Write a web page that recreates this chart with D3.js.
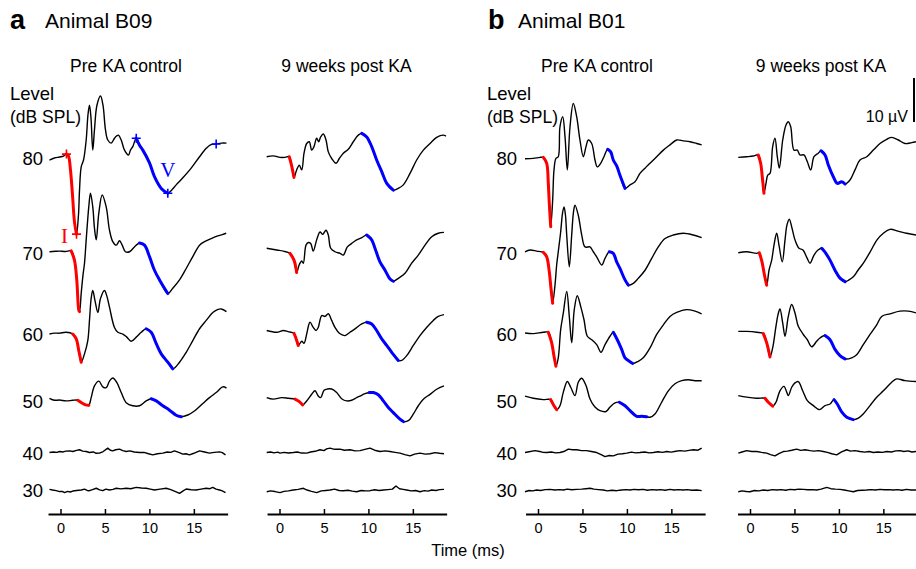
<!DOCTYPE html>
<html><head><meta charset="utf-8">
<script src="https://cdn.jsdelivr.net/npm/d3@7"></script>
<style>
body{margin:0;background:#fff}
svg{display:block}
text{font-family:"Liberation Sans",Arial,Helvetica,sans-serif;fill:#000}
</style>
</head><body>
<svg id="chart" width="916" height="569"></svg>
<script>
// ---------- DATA (time in ms, amplitude in µV relative to each trace's baseline) ----------
const levels = [80, 70, 60, 50, 40, 30];
const levelOffsets = [80.9, 59.3, 41.0, 25.7, 13.9, 5.45]; // µV stacking offsets
const xTicks = [0, 5, 10, 15];
const panelTitles = ["Pre KA control", "9 weeks post KA", "Pre KA control", "9 weeks post KA"];
const animalLabels = ["Animal B09", "Animal B01"];
const scaleBarValue = 10; // µV

// Animal B09, pre KA
const pre_B09_80 = [[-1.24,-0.45],[-0.67,0],[-0.11,0.23],[0.34,0.45],[0.67,0.9],[0.9,0.45],[1.12,-2.7],[1.35,-8.4],[1.57,-14.5],[1.8,-17.3],[2.02,-13],[2.14,-7.3],[2.33,-2],[2.59,-0.45],[2.89,4.1],[3.09,9.8],[3.26,12],[3.43,9.1],[3.63,1.8],[3.82,6.4],[4.1,12],[4.5,14.1],[4.78,12],[5.06,6.4],[5.32,4.1],[5.7,3.4],[6.07,4.5],[6.3,5],[6.52,5.2],[6.83,4.1],[7.2,1.8],[7.65,0.7],[7.87,1.8],[8.13,2.6],[8.52,4.5],[8.89,2.9],[9.26,1.8],[10.01,-1.1],[10.57,-4.25],[11.33,-6.9],[12.07,-8],[12.49,-7.3],[13.01,-6.1],[13.76,-4.5],[14.7,-2.3],[15.64,0.3],[16.39,2.2],[16.87,3],[17.51,3.2],[18.1,3.4],[18.67,3.4]];
const pre_B09_70 = [[-1.24,0.3],[-0.6,0.4],[-0.11,0.45],[0.56,0.35],[1.2,0.5],[1.57,-1.6],[1.83,-6.1],[2.06,-13],[2.14,-13.3],[2.33,-9.1],[2.53,-5],[2.7,-2.3],[2.89,3],[3.18,10.5],[3.37,13.6],[3.63,10.5],[3.82,5.7],[4.02,3],[4.31,9.1],[4.69,13.2],[5.14,10.5],[5.51,5.2],[5.88,2.6],[6.27,1.8],[6.64,2.8],[6.94,1.8],[7.31,0.3],[7.76,0.3],[8.32,1.4],[8.89,2.3],[9.45,1.8],[10.01,-0.8],[10.57,-3.9],[11.14,-6.1],[12.07,-9.2],[12.63,-8],[13.39,-6.1],[14.14,-3.5],[14.88,-0.8],[15.64,1.8],[16.2,2.6],[16.95,3.3],[17.69,3.9],[18.2,4.2],[18.64,4.5]];
const pre_B09_60 = [[-1.24,-0.1],[-0.67,0.1],[-0.11,0.1],[0.64,0.3],[1.38,-0.1],[1.77,-1.2],[2.06,-3.9],[2.33,-6.5],[2.7,-4.6],[3.07,-1.6],[3.26,3],[3.45,8],[3.63,9.8],[3.88,7.5],[4.2,4.8],[4.5,8],[4.95,9.8],[5.23,8.4],[5.51,6],[6.07,1.4],[6.45,0.3],[7.01,-0.1],[7.46,-0.8],[7.95,-1.75],[8.52,-0.8],[9.08,0.3],[9.64,1.1],[10.2,0.3],[10.77,-2.3],[11.33,-4.6],[12.07,-6.5],[12.63,-8],[13.39,-6.5],[14.14,-4.25],[14.88,-1.6],[15.64,1.1],[16.39,3],[17.13,4.8],[17.66,5.45],[18.08,5.6],[18.67,5]];
const pre_B09_50 = [[-1.24,0.6],[-0.67,0.15],[-0.11,0.2],[0.64,0],[1.38,0.15],[1.95,0.15],[2.51,-0.6],[2.81,-0.9],[3.18,-1],[3.45,0.75],[3.82,3.4],[4.31,4.5],[4.76,3.2],[5.14,3],[5.51,4.5],[5.88,5.2],[6.33,4.2],[6.83,1.9],[7.39,-0.4],[8.13,-1.1],[8.89,-1.1],[9.64,0],[10.2,0.5],[10.77,0],[11.51,-1.1],[12.26,-2.1],[13.01,-3.25],[13.58,-3.6],[14.32,-3.2],[15.07,-2.3],[16.01,-0.6],[16.76,0.75],[17.51,1.9],[18.26,3.2],[18.67,2.9]];
const pre_B09_40 = [[-1.24,0.07],[-0.8,0.2],[-0.4,0.1],[-0.11,0.3],[0.3,0.2],[0.6,0.4],[1.01,0.45],[1.4,0.3],[1.8,0.55],[2.14,0.7],[2.5,0.4],[2.9,0.3],[3.26,0.07],[3.7,0.2],[4.0,-0.1],[4.39,-0.07],[4.8,0.3],[5.32,1.07],[5.6,0.6],[5.88,0.45],[6.2,0.7],[6.64,0.85],[7.0,0.5],[7.39,0.3],[7.8,0.45],[8.3,0.2],[8.89,0.07],[9.4,0.1],[9.9,-0.2],[10.38,-0.45],[10.9,-0.2],[11.51,-0.07],[12.0,0.2],[12.4,0.1],[12.82,0.45],[13.3,0.1],[13.76,-0.3],[14.1,-0.2],[14.51,-0.45],[15.0,-0.1],[15.64,0.45],[16.2,0.2],[16.76,-0.07],[17.3,0.1],[17.89,0.23],[18.2,0.05],[18.56,-0.45]];
const pre_B09_30 = [[-1.24,0.15],[-0.9,0.0],[-0.48,-0.15],[-0.1,-0.35],[0.2,-0.3],[0.45,-0.6],[0.8,-0.3],[1.1,-0.45],[1.38,-0.23],[1.8,-0.1],[2.33,0],[2.7,0.2],[3.0,-0.1],[3.26,-0.15],[3.6,0.1],[4.02,0.4],[4.4,0.05],[4.76,-0.15],[5.1,0.2],[5.51,0],[5.9,0.15],[6.27,0.4],[6.8,0.25],[7.39,0.4],[7.9,0.3],[8.52,0.6],[9.1,0.45],[9.64,0.4],[10.1,0.2],[10.57,0],[11.2,0.2],[11.89,0.4],[12.4,0.1],[13.01,-0.4],[13.39,-0.75],[13.8,-0.2],[14.14,0.23],[14.7,0.05],[15.26,0],[15.8,0.2],[16.39,0.4],[16.8,0.3],[17.13,0.6],[17.5,0.2],[17.89,0],[18.2,-0.2],[18.56,-0.6]];

// Animal B09, 9 weeks post KA
const post_B09_80 = [[-1.44,0.3],[-0.7,0.5],[0.06,0.15],[0.62,0.15],[1.1,0.3],[1.35,-1.6],[1.63,-4.4],[1.93,-2.7],[2.23,-1.6],[2.5,-2.7],[2.76,1.1],[3.06,3.3],[3.35,3.7],[3.62,1.8],[3.88,2.6],[4.18,4.5],[4.41,3.7],[4.63,4.8],[4.93,5.45],[5.23,4.1],[5.49,1.4],[5.87,-0.1],[6.36,-1.2],[6.73,-0.1],[7.18,1.1],[7.74,2],[8.3,3.7],[8.86,5.2],[9.25,5.6],[9.81,4.8],[10.37,2.6],[10.93,-0.45],[11.5,-3.1],[12.06,-5.75],[12.8,-7.3],[13.36,-6.9],[13.93,-6.1],[14.68,-3.5],[15.43,-0.45],[16.18,1.8],[16.93,3.3],[17.68,4.7],[18.42,5.2],[18.73,5]];
const post_B09_70 = [[-1.44,1.1],[-0.31,0.7],[0.43,0.45],[1.18,-0.07],[1.63,-1.6],[1.93,-4.4],[2.23,-2.6],[2.5,-1.8],[2.68,-2.3],[2.98,1.8],[3.24,2.4],[3.51,2.2],[3.8,0.45],[4.18,3],[4.56,4.8],[4.86,4.25],[5.23,5.2],[5.49,4.1],[5.76,1.1],[6.24,0.3],[6.81,-0.07],[7.18,-0.45],[7.63,1.4],[8.12,2.2],[8.68,3],[9.25,3.5],[9.81,4.1],[10.37,3],[10.74,1.1],[11.3,-2],[11.87,-3.9],[12.43,-5.9],[12.8,-6.4],[13.36,-5.75],[14.12,-4.6],[14.87,-2.3],[15.61,-0.45],[16.37,1.8],[17.12,3.7],[17.86,4.5],[18.5,4.7]];
const post_B09_60 = [[-1.44,0.7],[-0.31,0.3],[0.43,0.7],[0.96,0.45],[1.63,0.07],[1.86,-1.1],[2.11,-2.7],[2.5,-1.75],[2.76,-2.2],[3.06,-0.07],[3.26,1.8],[3.43,2.6],[3.8,1.4],[4.11,0.7],[4.36,1.4],[4.75,4.1],[5.12,3.9],[5.49,4.5],[5.87,3],[6.24,1.4],[6.73,0.07],[7.37,-0.45],[7.93,0.3],[8.49,1.07],[9.25,2.2],[9.81,2.6],[10.37,2.2],[10.93,0.7],[11.5,-1.2],[12.06,-2.7],[12.62,-4.25],[13.36,-6.1],[13.74,-6.1],[14.31,-5],[15.05,-2.7],[15.8,-0.45],[16.55,1.4],[17.3,3],[17.86,3.9],[18.5,4.3]];
const post_B09_50 = [[-1.44,0.75],[-0.7,0.4],[0.25,0.75],[0.99,0.6],[1.74,0.4],[2.23,-0.15],[2.61,-0.9],[3.06,0],[3.62,1.5],[3.99,2.3],[4.36,1.1],[4.63,0.75],[5.01,2.4],[5.38,2.7],[5.87,2.7],[6.43,1.9],[6.99,0.5],[7.56,0],[8.12,0.15],[8.68,0.75],[9.05,1.1],[9.62,1.65],[10.1,1.9],[10.55,1.9],[11.11,1.4],[11.68,0],[12.24,-1.5],[12.8,-2.65],[13.55,-4.15],[13.93,-4.7],[14.49,-4.5],[15.05,-3],[15.61,-1.1],[16.18,0.4],[16.93,1.5],[17.68,2.65],[18.5,3.4]];
const post_B09_40 = [[-1.44,0.07],[-1.0,0.2],[-0.6,0.0],[-0.2,0.15],[0.06,-0.07],[0.5,0.1],[1.0,-0.05],[1.55,0.07],[2.0,0.2],[2.5,-0.05],[3.06,-0.07],[3.5,0.2],[4.0,0.35],[4.56,0.7],[5.0,0.5],[5.3,0.9],[5.68,1.07],[6.2,0.8],[6.81,0.85],[7.3,0.6],[7.93,0.7],[8.5,0.45],[9.06,0.5],[9.6,0.8],[10.18,1.07],[10.7,0.6],[11.3,0.3],[11.9,0.45],[12.43,0.3],[13.0,0.1],[13.55,-0.07],[14.1,-0.4],[14.68,-0.7],[15.2,-0.3],[15.8,-0.07],[16.4,-0.3],[16.93,-0.2],[17.5,0.05],[18.0,-0.1],[18.5,-0.2]];
const post_B09_30 = [[-1.44,-0.4],[-1.0,-0.2],[-0.5,-0.35],[0.06,-0.6],[0.5,-0.3],[1.0,-0.2],[1.55,0],[2.1,0.15],[2.68,0.4],[3.1,0.0],[3.6,-0.3],[4.18,-0.6],[4.7,-0.2],[5.2,-0.1],[5.68,0],[6.2,0.2],[6.7,-0.1],[7.18,-0.15],[7.7,-0.05],[8.2,-0.25],[8.68,-0.4],[9.2,-0.1],[9.7,-0.2],[10.18,-0.15],[10.7,0.05],[11.2,-0.1],[11.68,0],[12.2,0.1],[12.7,0.2],[13.1,0.9],[13.5,0.3],[13.9,0.15],[14.31,0],[14.8,-0.2],[15.3,-0.1],[15.8,-0.4],[16.3,-0.15],[16.7,-0.25],[17.12,0],[17.6,-0.1],[18.0,0.1],[18.5,0.15]];

// Animal B01, pre KA
const pre_B01_80 = [[-1.46,-0.15],[-0.53,-0.07],[0.22,0.15],[0.6,0.15],[0.98,-1.2],[1.16,-5.75],[1.27,-10.3],[1.43,-15.6],[1.65,-9.5],[1.8,-2.7],[2.02,-0.07],[2.28,0.3],[2.47,7.1],[2.78,9.4],[3.04,4.8],[3.3,-2.7],[3.6,7.1],[3.97,12.4],[4.35,9.4],[4.72,4.1],[5.1,0.3],[5.4,2.6],[5.66,4.1],[6.04,3.3],[6.41,-0.45],[6.67,-2],[7.05,-1.2],[7.42,0.3],[7.84,2],[8.18,1.4],[8.47,-0.45],[8.85,-1.8],[9.22,-3.9],[9.79,-6.9],[10.35,-6.1],[10.91,-5.4],[11.47,-3.5],[12.04,-2.3],[12.6,-1.2],[13.35,0.3],[14.1,1.8],[14.85,3],[15.6,4.1],[16.34,3.9],[17.1,3.7],[17.85,3.3],[18.41,3]];
const pre_B01_70 = [[-1.46,0.3],[-0.9,0.7],[-0.15,0.45],[0.6,0.15],[0.98,-0.85],[1.27,-4.25],[1.46,-8],[1.65,-11.4],[1.91,-7.3],[2.1,-2.7],[2.28,0.3],[2.55,4.8],[2.76,9.1],[2.93,10.5],[3.09,8.6],[3.23,4.1],[3.52,-3.1],[3.79,4.1],[3.99,9.3],[4.16,10.9],[4.53,8.6],[4.92,4.1],[5.29,1.4],[5.85,1.4],[6.22,0.3],[6.6,-0.85],[7.17,-2.7],[7.54,-1.2],[8.02,0.3],[8.47,-0.07],[8.85,-2],[9.22,-3.5],[9.79,-6.1],[10.16,-7.3],[10.72,-6.9],[11.28,-5.75],[12.04,-3.9],[12.79,-1.2],[13.53,1.4],[14.29,3.3],[15.22,4.1],[16.34,4.5],[17.47,4.1],[18.41,3.5]];
const pre_B01_60 = [[-1.46,0.15],[-0.53,0],[0.6,0.3],[1.16,0.3],[1.54,-2.1],[1.8,-5.15],[2.02,-7.4],[2.28,-5.5],[2.55,0.9],[2.85,4.7],[3.23,9.6],[3.52,3.9],[3.79,-2.1],[4.08,5.45],[4.42,8.6],[4.8,6.2],[5.17,3.2],[5.55,-0.6],[6.04,-1.4],[6.6,-2.5],[7.09,-4.25],[7.54,-2.5],[8.1,-0.6],[8.47,0.3],[8.92,-1.4],[9.41,-3.6],[9.79,-5.5],[10.27,-6.3],[10.65,-6.8],[11.28,-6.3],[11.84,-5.5],[12.6,-3.25],[13.35,-0.2],[14.1,2],[14.85,3.9],[15.6,4.8],[16.72,5.45],[17.66,5.1],[18.41,4.5]];
const pre_B01_50 = [[-1.46,1.1],[-0.53,0.6],[0.6,0.3],[1.43,0.3],[1.8,-1.1],[2.1,-2],[2.47,-1.1],[2.85,2],[3.3,4.4],[3.68,3.1],[4.16,1.2],[4.53,4.25],[4.92,5.15],[5.4,3.5],[5.85,0.45],[6.41,-1.4],[6.97,-2.2],[7.65,-2.4],[8.1,-1.4],[8.66,-0.45],[9.15,-0.3],[9.79,-1.1],[10.35,-2.2],[11.1,-3.5],[11.66,-3.5],[12.23,-3.6],[12.6,-3.7],[13.16,-2.95],[13.91,-0.3],[14.66,2.3],[15.41,3.9],[16.16,4.6],[16.9,4.8],[17.66,4.6],[18.41,4.6]];
const pre_B01_40 = [[-1.46,0.07],[-1.0,0.25],[-0.34,0.5],[0.2,0.3],[0.5,0.15],[0.98,0.07],[1.5,0.2],[2.0,0.0],[2.47,0.07],[2.9,0.3],[3.41,0.85],[3.9,0.7],[4.35,0.7],[4.9,0.5],[5.48,0.5],[6.0,0.3],[6.6,0.07],[7.1,-0.4],[7.54,-0.85],[8.0,-0.6],[8.47,-0.7],[9.0,-0.3],[9.5,-0.2],[9.98,-0.07],[10.5,0.15],[11.0,0.0],[11.47,0.07],[12.0,0.2],[12.5,0.0],[12.97,0.07],[13.5,0.25],[14.0,0.1],[14.48,0.3],[15.0,0.15],[15.5,0.35],[15.97,0.5],[16.5,0.4],[17.0,0.55],[17.47,0.7],[18.0,0.6],[18.41,1.07]];
const pre_B01_30 = [[-1.46,-0.4],[-1.0,-0.1],[-0.6,-0.2],[-0.15,0],[0.3,-0.1],[0.8,0.1],[1.35,0.15],[1.9,0.0],[2.4,0.1],[2.85,0],[3.3,0.2],[3.8,0.05],[4.35,0.15],[4.9,0.2],[5.4,0.3],[5.85,0.4],[6.3,0.2],[6.8,0.1],[7.35,0],[7.8,-0.2],[8.3,-0.05],[8.85,-0.15],[9.4,0.0],[9.9,0.1],[10.35,0],[10.8,0.15],[11.3,0.05],[11.84,0.15],[12.3,-0.05],[12.8,0.1],[13.35,0],[13.8,0.1],[14.3,-0.05],[14.85,0.15],[15.3,0.0],[15.8,0.1],[16.34,0],[16.8,0.1],[17.3,-0.05],[17.85,0],[18.41,-0.15]];

// Animal B01, 9 weeks post KA
const post_B01_80 = [[-1.32,0.15],[-0.37,0.3],[0.37,0.45],[0.93,0.7],[1.2,-1.2],[1.38,-4.25],[1.57,-8],[1.8,-5.75],[1.99,-3.9],[2.25,-3.5],[2.55,2.6],[2.81,4.5],[3.07,0.3],[3.3,-2.3],[3.68,4.1],[4.05,7.5],[4.31,8.25],[4.58,7.1],[4.95,1.8],[5.32,1.8],[5.62,0.7],[6.07,0.7],[6.45,-0.85],[6.83,-2.7],[7.2,0.3],[7.68,1.1],[7.99,1.65],[8.44,0.7],[8.81,-1.6],[9.37,-4.25],[9.82,-5.75],[10.31,-5.4],[10.69,-5.9],[11.25,-5],[11.81,-2.7],[12.37,-0.45],[13.13,0.3],[13.87,1.8],[14.62,3.3],[15.38,4.25],[15.94,4.7],[16.68,4.1],[17.44,3.3],[18.19,3.5],[18.67,3.7]];
const post_B01_70 = [[-1.32,0.07],[-0.37,0.3],[0.75,-0.07],[1.05,0.07],[1.35,-2],[1.63,-5],[1.88,-7.3],[2.14,-3.9],[2.44,-1.6],[2.7,1.8],[3,4.5],[3.26,1.8],[3.63,-2],[3.94,3],[4.16,6.4],[4.42,7.7],[4.72,5.7],[5.06,3],[5.51,1.1],[5.96,0.7],[6.41,-1.1],[6.75,-2.3],[7.2,-0.45],[7.65,0.7],[8.07,1.1],[8.44,0.2],[9,-1.6],[9.56,-3.9],[10.12,-5.7],[10.69,-6.5],[11.14,-6.1],[11.62,-5.4],[12.15,-3.9],[12.75,-2.3],[13.5,0.2],[14.29,3],[15,4.5],[15.75,5.4],[16.65,5],[17.62,4.5],[18.67,4.1]];
const post_B01_60 = [[-1.32,0.5],[-0.37,0.5],[0.75,0.3],[1.5,0],[1.88,-2.1],[2.25,-5.3],[2.55,-3.25],[2.92,1.65],[3.15,4.3],[3.37,5.6],[3.68,2.4],[3.94,-0.6],[4.31,3.9],[4.69,6.6],[5.06,4.7],[5.43,1.65],[6,-0.2],[6.45,-1.4],[6.94,-3],[7.5,-1.75],[7.87,-1],[8.44,-0.45],[9,-1.4],[9.56,-3.6],[10.12,-5],[10.69,-5.75],[11.44,-5.5],[12,-4.8],[12.74,-2.5],[13.5,-0.2],[14.25,2],[14.81,3.9],[15.75,4.5],[16.87,5.1],[17.81,5.1],[18.67,4.7]];
const post_B01_50 = [[-1.32,1.2],[-0.37,0.85],[0.75,0.6],[1.69,0.6],[2.06,-0.3],[2.55,-1.2],[2.92,-0.3],[3.37,2.3],[3.82,3.3],[4.13,2],[4.31,1.2],[4.69,3.1],[5.06,4.1],[5.43,4.4],[5.93,2.3],[6.45,0.07],[7.12,-1.07],[7.8,-1.97],[8.44,-1.07],[9,-0.7],[9.45,0.3],[9.82,-0.7],[10.31,-2.5],[10.88,-3.7],[11.62,-4.25],[12.19,-3.9],[12.74,-2.95],[13.5,-1.07],[14.25,0.85],[15,2.3],[15.94,4.25],[16.5,5],[17.44,4.6],[18.67,4.4]];
const post_B01_40 = [[-1.32,-0.07],[-0.9,0.2],[-0.37,0.5],[0.2,0.3],[0.75,0.3],[1.3,0.1],[1.88,-0.07],[2.3,-0.4],[2.81,-0.7],[3.3,-0.1],[3.75,0.3],[4.2,0.4],[4.7,0.6],[5.25,0.85],[5.7,0.55],[6.2,0.7],[6.75,0.5],[7.2,0.4],[7.7,0.5],[8.25,0.3],[8.7,0.1],[9.2,-0.2],[9.75,-0.45],[10.3,0.2],[10.88,0.7],[11.3,0.4],[11.8,0.5],[12.37,0.3],[12.9,0.15],[13.4,0.3],[13.87,0.07],[14.4,0.2],[14.9,0.1],[15.38,0.3],[15.9,0.2],[16.4,0.45],[16.87,0.5],[17.3,0.3],[17.8,0.45],[18.2,0.2],[18.67,0.3]];
const post_B01_30 = [[-1.32,-0.4],[-0.9,-0.2],[-0.4,-0.35],[0,-0.4],[0.5,-0.1],[1.0,-0.2],[1.5,0],[2.0,-0.1],[2.5,0.1],[3,0],[3.5,0.1],[4.0,-0.05],[4.5,0.15],[5.0,0.05],[5.5,0.2],[6,0.15],[6.5,0.05],[7.0,0.1],[7.5,0],[8.0,0.2],[8.63,0.6],[9.1,0.3],[9.6,0.2],[10.12,0.15],[10.6,0.0],[11.1,-0.2],[11.62,-0.4],[12.1,-0.1],[12.6,-0.05],[13.13,0],[13.6,0.1],[14.1,0.0],[14.62,0.15],[15.1,0.05],[15.6,0.1],[16.12,0],[16.6,0.1],[17.1,-0.05],[17.62,0.15],[18.1,0.0],[18.67,0]];

// wave I (red) and wave V (blue) time windows, per level 80..50
const waveI_pre_B09  = [[0.67,1.8],[1.2,2.14],[1.38,2.33],[1.95,3.18]];
const waveV_pre_B09  = [[8.52,12.07],[8.89,12.07],[9.64,12.63],[10.2,13.58]];
const waveI_post_B09 = [[1.1,1.63],[1.18,1.93],[1.63,2.11],[1.74,2.61]];
const waveV_post_B09 = [[9.25,12.8],[9.81,12.8],[9.81,13.36],[10.1,13.93]];
const waveI_pre_B01  = [[0.6,1.43],[0.6,1.65],[1.16,2.02],[1.43,2.1]];
const waveV_pre_B01  = [[7.84,9.79],[8.02,10.16],[8.47,10.65],[9.15,12.23]];
const waveI_post_B01 = [[0.93,1.57],[1.05,1.88],[1.5,2.25],[1.69,2.55]];
const waveV_post_B01 = [[7.99,10.69],[8.07,10.69],[8.44,10.69],[9.45,11.62]];

// peak / trough markers on the B09 pre-KA 80 dB trace
const markersI = [[0.67,0.9],[1.8,-17.3]];
const markersV = [[8.52,4.5],[12.07,-8],[17.51,3.2]];

// ---------- DRAWING ----------
const svg = d3.select("#chart");
const RED = "#ff0000", BLUE = "#0000ff";
const pxPerMs = 8.89, tMin = -1.4, tMax = 18.8;
const axisY = 514;
const y = d3.scaleLinear().domain([0, 10]).range([axisY, axisY - 44]);

const panels = [
  {x0: 60.5, traces: [pre_B09_80, pre_B09_70, pre_B09_60, pre_B09_50, pre_B09_40, pre_B09_30], wI: waveI_pre_B09, wV: waveV_pre_B09, title: panelTitles[0], tx: 126},
  {x0: 279.5, traces: [post_B09_80, post_B09_70, post_B09_60, post_B09_50, post_B09_40, post_B09_30], wI: waveI_post_B09, wV: waveV_post_B09, title: panelTitles[1], tx: 346.5},
  {x0: 538, traces: [pre_B01_80, pre_B01_70, pre_B01_60, pre_B01_50, pre_B01_40, pre_B01_30], wI: waveI_pre_B01, wV: waveV_pre_B01, title: panelTitles[2], tx: 597},
  {x0: 750, traces: [post_B01_80, post_B01_70, post_B01_60, post_B01_50, post_B01_40, post_B01_30], wI: waveI_post_B01, wV: waveV_post_B01, title: panelTitles[3], tx: 821}
];

panels.forEach((p, pi) => {
  const x = d3.scaleLinear().domain([tMin, tMax]).range([p.x0 + tMin * pxPerMs, p.x0 + tMax * pxPerMs]);
  p.x = x;
  const g = svg.append("g");

  svg.append("text").attr("x", p.tx).attr("y", 72).attr("text-anchor", "middle")
    .style("font-size", "17.5px").text(p.title);

  p.traces.forEach((tr, li) => {
    const off = levelOffsets[li];
    const line = d3.line()
      .x(d => x(d[0]))
      .y(d => y(off + d[1]))
      .curve(li < 4 ? d3.curveCatmullRom.alpha(0.5) : d3.curveLinear);
    g.append("path").datum(tr).attr("d", line)
      .attr("fill", "none").attr("stroke", "#000").attr("stroke-width", 1.4)
      .attr("stroke-linejoin", "round");
    if (li < 4) {
      [[p.wI[li], RED], [p.wV[li], BLUE]].forEach(([w, col]) => {
        const seg = tr.filter(d => d[0] >= w[0] - 1e-6 && d[0] <= w[1] + 1e-6);
        g.append("path").datum(seg).attr("d", line)
          .attr("fill", "none").attr("stroke", col).attr("stroke-width", 3)
          .attr("stroke-linecap", "round").attr("stroke-linejoin", "round");
      });
    }
  });

  const ax = svg.append("g").attr("transform", `translate(0,${axisY})`)
    .call(d3.axisBottom(x).tickValues(xTicks).tickSizeInner(-5).tickSizeOuter(0).tickPadding(9));
  ax.select(".domain").attr("stroke", "#000").attr("stroke-width", 2);
  ax.selectAll(".tick line").attr("stroke", "#000").attr("stroke-width", 1.5);
  ax.selectAll(".tick text").style("font-size", "14.5px")
    .style("font-family", '"Liberation Sans", Arial, sans-serif').attr("fill", "#000");
});

[[43, 0], [517, 2]].forEach(([lx, pi]) => {
  levels.forEach((lv, li) => {
    svg.append("text").attr("x", lx).attr("y", y(levelOffsets[li]) + 7)
      .attr("text-anchor", "end").style("font-size", "18.5px").text(lv);
  });
});

[10, 487].forEach(lx => {
  svg.append("text").attr("x", lx).attr("y", 100).style("font-size", "18.5px").text("Level");
  svg.append("text").attr("x", lx).attr("y", 123).style("font-size", "17.5px").text("(dB SPL)");
});

svg.append("text").attr("x", 10).attr("y", 29).style("font-size", "27px").style("font-weight", "bold").text("a");
svg.append("text").attr("x", 45).attr("y", 28).style("font-size", "21px").text(animalLabels[0]);
svg.append("text").attr("x", 488).attr("y", 29).style("font-size", "27px").style("font-weight", "bold").text("b");
svg.append("text").attr("x", 518).attr("y", 28).style("font-size", "21px").text(animalLabels[1]);

svg.append("text").attr("x", 468).attr("y", 556).attr("text-anchor", "middle").style("font-size", "16.5px").text("Time (ms)");

const pa = panels[0];
const plus = "M-4.5,0H4.5M0,-4.5V4.5";
markersI.forEach(d => {
  svg.append("path").attr("d", plus)
    .attr("transform", `translate(${pa.x(d[0])},${y(levelOffsets[0] + d[1])})`)
    .attr("stroke", RED).attr("stroke-width", 1.6).attr("fill", "none");
});
markersV.forEach(d => {
  svg.append("path").attr("d", plus)
    .attr("transform", `translate(${pa.x(d[0])},${y(levelOffsets[0] + d[1])})`)
    .attr("stroke", BLUE).attr("stroke-width", 1.6).attr("fill", "none");
});
svg.append("text").attr("x", pa.x(markersI[1][0]) - 12).attr("y", y(levelOffsets[0] + markersI[1][1]) + 9)
  .attr("text-anchor", "middle").style("font-family", '"Liberation Serif","Times New Roman",serif')
  .style("font-size", "21px").style("fill", RED).text("I");
svg.append("text").attr("x", pa.x(markersV[1][0])).attr("y", y(levelOffsets[0] + markersV[1][1]) - 16)
  .attr("text-anchor", "middle").style("font-family", '"Liberation Serif","Times New Roman",serif')
  .style("font-size", "21px").style("fill", BLUE).text("V");

const barBottom = 122;
const barLen = y(0) - y(scaleBarValue);
svg.append("line").attr("x1", 914).attr("x2", 914).attr("y1", barBottom).attr("y2", barBottom - barLen)
  .attr("stroke", "#000").attr("stroke-width", 2);
svg.append("text").attr("x", 908).attr("y", 122).attr("text-anchor", "end").style("font-size", "16px").text(scaleBarValue + " µV");
</script>
</body></html>
